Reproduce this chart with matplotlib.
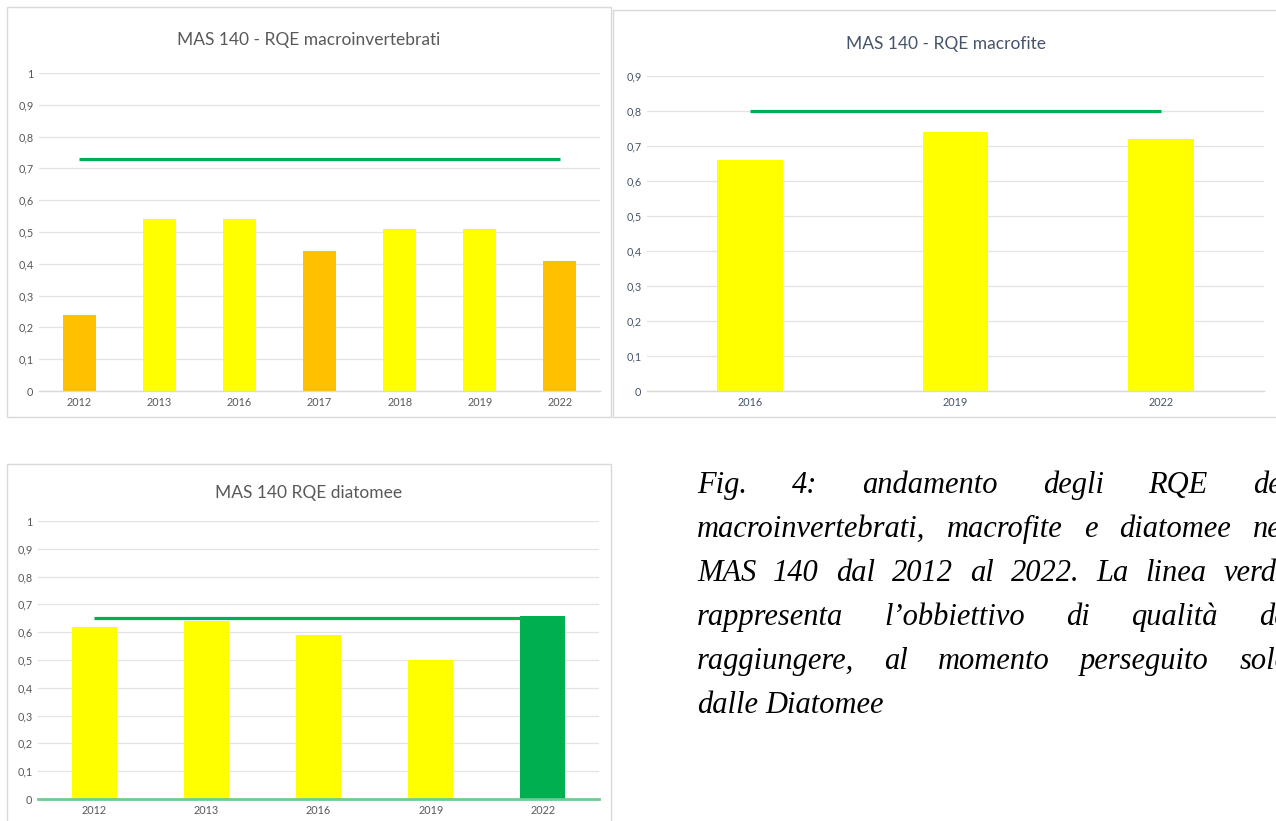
import matplotlib
matplotlib.use("Agg")
import matplotlib.pyplot as plt
from matplotlib.patches import Rectangle

W, H = 1276, 821

# --- data ---
macroinv_years = ["2012", "2013", "2016", "2017", "2018", "2019", "2022"]
macroinv_rqe = [0.24, 0.54, 0.54, 0.44, 0.51, 0.51, 0.41]
macroinv_class = ["scarso", "sufficiente", "sufficiente", "scarso", "sufficiente", "sufficiente", "scarso"]
macroinv_target = 0.73

macrofite_years = ["2016", "2019", "2022"]
macrofite_rqe = [0.66, 0.74, 0.72]
macrofite_class = ["sufficiente", "sufficiente", "sufficiente"]
macrofite_target = 0.80

diatomee_years = ["2012", "2013", "2016", "2019", "2022"]
diatomee_rqe = [0.62, 0.64, 0.59, 0.50, 0.66]
diatomee_class = ["sufficiente", "sufficiente", "sufficiente", "sufficiente", "buono"]
diatomee_target = 0.65

caption_lines = [
    "Fig. 4: andamento degli RQE dei",
    "macroinvertebrati, macrofite e diatomee nel",
    "MAS 140 dal 2012 al 2022. La linea verde",
    "rappresenta l\u2019obbiettivo di qualit\u00e0 da",
    "raggiungere, al momento perseguito solo",
    "dalle Diatomee",
]

class_colors = {"scarso": "#FFC000", "sufficiente": "#FFFF00", "buono": "#00B050"}
green = "#00B050"

plt.rcParams["font.family"] = ["Lato", "DejaVu Sans"]

fig = plt.figure(figsize=(W / 100, H / 100), dpi=100)
fig.patch.set_facecolor("white")


def px_axes(x0, x1, y_top, y_bot):
    return fig.add_axes([x0 / W, 1 - y_bot / H, (x1 - x0) / W, (y_bot - y_top) / H])


def frame(x0, y0, x1, y1):
    fig.patches.append(Rectangle((x0 / W, 1 - y1 / H), (x1 - x0) / W, (y1 - y0) / H,
                                 transform=fig.transFigure, fill=False,
                                 edgecolor="#D9D9D9", lw=1.0))


def fmt(v):
    s = f"{v:.1f}".rstrip("0").rstrip(".")
    return s.replace(".", ",")


def bar_panel(ax, years, vals, classes, target, ymax, width, txtcol, base_col, base_lw):
    x = list(range(len(years)))
    ax.bar(x, vals, width=width, color=[class_colors[c] for c in classes], zorder=3)
    ax.plot([x[0], x[-1]], [target, target], color=green, lw=2.3, zorder=4,
            solid_capstyle="butt")
    ax.set_xlim(-0.5, len(years) - 0.5)
    ax.set_ylim(0, ymax)
    ticks = [i / 10 for i in range(0, int(round(ymax * 10)) + 1)]
    ax.set_yticks(ticks)
    ax.set_yticklabels([fmt(t) for t in ticks])
    ax.set_xticks(x)
    ax.set_xticklabels(years)
    ax.tick_params(length=0, labelsize=7.8, colors=txtcol)
    ax.tick_params(axis="x", pad=4)
    ax.tick_params(axis="y", pad=4)
    ax.grid(axis="y", color="#E3E3E3", lw=0.9, zorder=0)
    for s in ["top", "right", "left"]:
        ax.spines[s].set_visible(False)
    ax.spines["bottom"].set_color(base_col)
    ax.spines["bottom"].set_linewidth(base_lw)
    ax.spines["bottom"].set_zorder(5)
    ax.set_facecolor("none")


# panel frames
frame(7, 7, 611, 417)
frame(613, 10, 1290, 417)
frame(7, 464, 611, 830)

# macroinvertebrati
ax1 = px_axes(39, 600, 73, 391)
bar_panel(ax1, macroinv_years, macroinv_rqe, macroinv_class, macroinv_target, 1.0,
          0.41, "#595959", "#D9D9D9", 1.0)
fig.text(308.8 / W, 1 - 45 / H, "MAS 140 - RQE macroinvertebrati", ha="center",
         va="baseline", fontsize=12.5, color="#595959")

# macrofite
ax2 = px_axes(647, 1264, 76, 391)
bar_panel(ax2, macrofite_years, macrofite_rqe, macrofite_class, macrofite_target, 0.9,
          0.32, "#44546A", "#D9D9D9", 1.0)
fig.text(945.6 / W, 1 - 49.5 / H, "MAS 140 - RQE macrofite", ha="center",
         va="baseline", fontsize=12.5, color="#44546A")

# diatomee
ax3 = px_axes(38, 599, 521, 799)
bar_panel(ax3, diatomee_years, diatomee_rqe, diatomee_class, diatomee_target, 1.0,
          0.40, "#595959", "#6FCB95", 2.0)
fig.text(308.6 / W, 1 - 497.7 / H, "MAS 140 RQE diatomee", ha="center",
         va="baseline", fontsize=12.5, color="#595959")

# justified italic caption (runs past the right edge, as in the source page)
cap_font = dict(family="Liberation Serif", style="italic", fontsize=22, color="black")
left, right = 697, 1290
base0, step = 493, 43.9
renderer = fig.canvas.get_renderer()
t_ab = fig.text(0, 0, "a b", **cap_font)
t_nb = fig.text(0, 0, "ab", **cap_font)
space = t_ab.get_window_extent(renderer).width - t_nb.get_window_extent(renderer).width
t_ab.remove()
t_nb.remove()
for i, line in enumerate(caption_lines):
    words = line.split(" ")
    y = 1 - (base0 + i * step) / H
    objs = [fig.text(0, y, w, va="baseline", ha="left", **cap_font) for w in words]
    widths = [o.get_window_extent(renderer).width for o in objs]
    if i == len(caption_lines) - 1:
        gap = space
    else:
        gap = max(space, (right - left - sum(widths)) / (len(words) - 1))
    xpos = left
    for o, w in zip(objs, widths):
        o.set_x(xpos / W)
        xpos += w + gap

fig.savefig("out.png", dpi=100, facecolor="white")
